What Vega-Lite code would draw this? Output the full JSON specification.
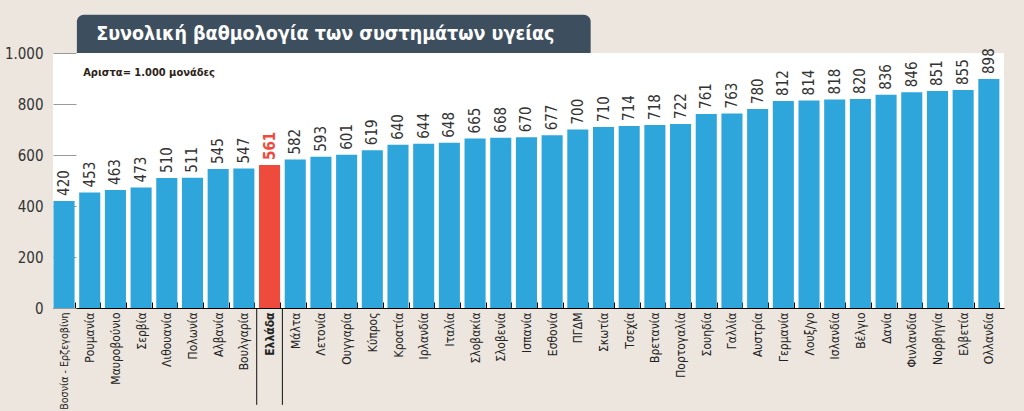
{
  "$schema": "https://vega.github.io/schema/vega-lite/v6.json",
  "width": 951,
  "height": 255,
  "autosize": {"type": "none"},
  "padding": {"left": 53, "top": 53, "right": 20, "bottom": 103},
  "background": "#ece6df",
  "config": {
    "view": {"fill": "white", "stroke": null},
    "font": "DejaVu Sans Condensed, Liberation Sans Narrow, sans-serif"
  },
  "data": {
    "values": [
      {"country": "Βοσνία - Ερζεγοβίνη", "value": 420},
      {"country": "Ρουμανία", "value": 453},
      {"country": "Μαυροβούνιο", "value": 463},
      {"country": "Σερβία", "value": 473},
      {"country": "Λιθουανία", "value": 510},
      {"country": "Πολωνία", "value": 511},
      {"country": "Αλβανία", "value": 545},
      {"country": "Βουλγαρία", "value": 547},
      {"country": "Ελλάδα", "value": 561},
      {"country": "Μάλτα", "value": 582},
      {"country": "Λετονία", "value": 593},
      {"country": "Ουγγαρία", "value": 601},
      {"country": "Κύπρος", "value": 619},
      {"country": "Κροατία", "value": 640},
      {"country": "Ιρλανδία", "value": 644},
      {"country": "Ιταλία", "value": 648},
      {"country": "Σλοβακία", "value": 665},
      {"country": "Σλοβενία", "value": 668},
      {"country": "Ισπανία", "value": 670},
      {"country": "Εσθονία", "value": 677},
      {"country": "ΠΓΔΜ", "value": 700},
      {"country": "Σκωτία", "value": 710},
      {"country": "Τσεχία", "value": 714},
      {"country": "Βρετανία", "value": 718},
      {"country": "Πορτογαλία", "value": 722},
      {"country": "Σουηδία", "value": 761},
      {"country": "Γαλλία", "value": 763},
      {"country": "Αυστρία", "value": 780},
      {"country": "Γερμανία", "value": 812},
      {"country": "Λουξ/γο", "value": 814},
      {"country": "Ισλανδία", "value": 818},
      {"country": "Βέλγιο", "value": 820},
      {"country": "Δανία", "value": 836},
      {"country": "Φινλανδία", "value": 846},
      {"country": "Νορβηγία", "value": 851},
      {"country": "Ελβετία", "value": 855},
      {"country": "Ολλανδία", "value": 898}
    ]
  },
  "layer": [
    {
      "mark": {"type": "bar"},
      "encoding": {
        "x": {
          "field": "country",
          "type": "nominal",
          "sort": null,
          "title": null,
          "scale": {
            "domain": ["Βοσνία - Ερζεγοβίνη", "Ρουμανία", "Μαυροβούνιο", "Σερβία", "Λιθουανία", "Πολωνία", "Αλβανία", "Βουλγαρία", "Ελλάδα", "Μάλτα", "Λετονία", "Ουγγαρία", "Κύπρος", "Κροατία", "Ιρλανδία", "Ιταλία", "Σλοβακία", "Σλοβενία", "Ισπανία", "Εσθονία", "ΠΓΔΜ", "Σκωτία", "Τσεχία", "Βρετανία", "Πορτογαλία", "Σουηδία", "Γαλλία", "Αυστρία", "Γερμανία", "Λουξ/γο", "Ισλανδία", "Βέλγιο", "Δανία", "Φινλανδία", "Νορβηγία", "Ελβετία", "Ολλανδία"],
            "paddingInner": 0.18,
            "paddingOuter": 0.1,
            "align": 0.1
          },
          "axis": {
            "title": null,
            "domain": true,
            "domainColor": "#000000",
            "tickColor": "#000000",
            "tickSize": -6,
            "tickBand": "extent",
            "labelAngle": -90,
            "labelPadding": 10,
            "labelFontSize": {"condition": {"test": "datum.value === 'Βοσνία - Ερζεγοβίνη'", "value": 10.6}, "value": 12},
            "labelColor": "#222222",
            "labelLimit": 0,
            "labelFontWeight": {"condition": {"test": "datum.value === 'Ελλάδα'", "value": "bold"}, "value": "normal"}
          }
        },
        "y": {
          "field": "value",
          "type": "quantitative",
          "title": null,
          "scale": {"domain": [0, 1000]},
          "axis": {
            "title": null,
            "values": [0, 200, 400, 600, 800, 1000],
            "domain": false,
            "grid": false,
            "tickColor": "#9a9a9a",
            "tickSize": -23,
            "labelPadding": 33,
            "labelFontSize": 15,
            "labelColor": "#333333",
            "labelExpr": "datum.value == 1000 ? '1.000' : datum.label"
          }
        },
        "color": {
          "condition": {"test": "datum.country === 'Ελλάδα'", "value": "#ef4b3d"},
          "value": "#2ea6dc"
        }
      }
    },
    {
      "transform": [{"filter": "datum.country !== 'Ελλάδα'"}],
      "mark": {"type": "text", "angle": 270, "align": "left", "baseline": "middle", "dx": 5, "fontSize": 15, "color": "#333333"},
      "encoding": {
        "x": {"field": "country", "type": "nominal", "sort": null, "title": null},
        "y": {"field": "value", "type": "quantitative", "title": null},
        "text": {"field": "value", "type": "quantitative"}
      }
    },
    {
      "transform": [{"filter": "datum.country === 'Ελλάδα'"}],
      "mark": {"type": "text", "angle": 270, "align": "left", "baseline": "middle", "dx": 5, "fontSize": 15, "fontWeight": "bold", "color": "#ef4b3d"},
      "encoding": {
        "x": {"field": "country", "type": "nominal", "sort": null, "title": null},
        "y": {"field": "value", "type": "quantitative", "title": null},
        "text": {"field": "value", "type": "quantitative"}
      }
    },
    {
      "data": {"values": [{}]},
      "mark": {"type": "rule", "color": "#111111", "strokeWidth": 1},
      "encoding": {
        "x": {"datum": "Ελλάδα", "bandPosition": -0.11, "title": null},
        "y": {"datum": 0, "title": null},
        "y2": {"datum": -380}
      }
    },
    {
      "data": {"values": [{}]},
      "mark": {"type": "rule", "color": "#111111", "strokeWidth": 1},
      "encoding": {
        "x": {"datum": "Μάλτα", "bandPosition": -0.11, "title": null},
        "y": {"datum": 0, "title": null},
        "y2": {"datum": -380}
      }
    },
    {
      "data": {"values": [{}]},
      "mark": {"type": "rect", "color": "#3d4f5e", "cornerRadiusTopLeft": 7, "cornerRadiusTopRight": 7},
      "encoding": {
        "x": {"datum": "Ρουμανία", "bandPosition": -0.11, "title": null},
        "x2": {"datum": "Σκωτία", "bandPosition": -0.11},
        "y": {"datum": 1000, "title": null},
        "y2": {"datum": 1150}
      }
    },
    {
      "data": {"values": [{}]},
      "mark": {"type": "text", "align": "left", "baseline": "middle", "dx": 17, "fontSize": 19.5, "fontWeight": "bold", "color": "#ffffff", "text": "Συνολική βαθμολογία των συστημάτων υγείας"},
      "encoding": {
        "x": {"datum": "Ρουμανία", "bandPosition": 0, "title": null},
        "y": {"datum": 1075, "title": null}
      }
    },
    {
      "data": {"values": [{}]},
      "mark": {"type": "text", "align": "left", "baseline": "middle", "dx": 4, "fontSize": 11, "fontWeight": "bold", "color": "#2b2217", "text": "Αριστα= 1.000 μονάδες"},
      "encoding": {
        "x": {"datum": "Ρουμανία", "bandPosition": 0, "title": null},
        "y": {"datum": 920, "title": null}
      }
    }
  ]
}
